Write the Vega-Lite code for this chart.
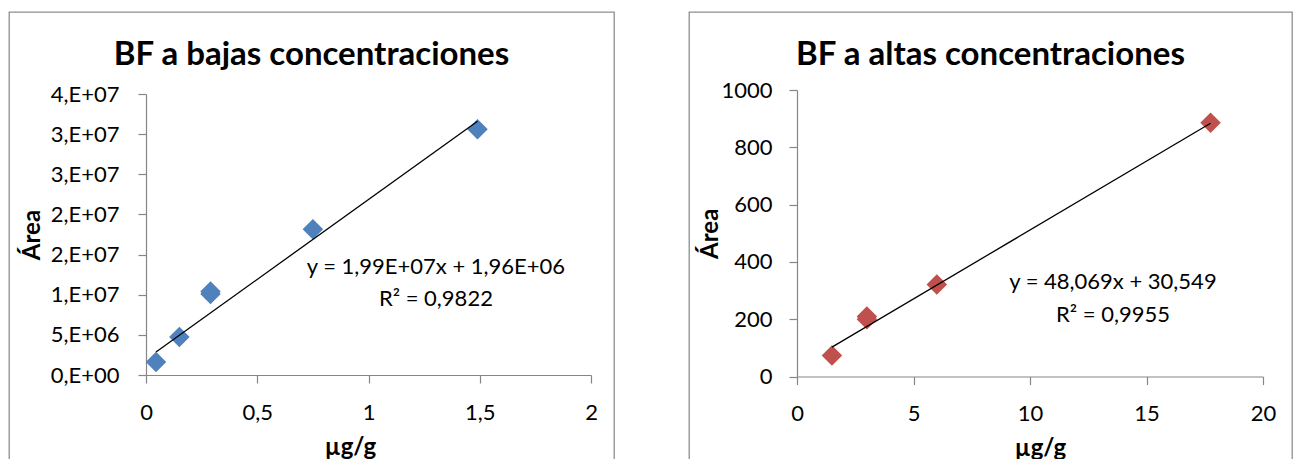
{
  "$schema": "https://vega.github.io/schema/vega-lite/v6.json",
  "background": "white",
  "padding": {"left": 8, "top": 11, "right": 11, "bottom": 0},
  "spacing": 73,
  "config": {
    "font": "Lato",
    "view": {"stroke": "#8f8f8f", "strokeWidth": 1.3},
    "axis": {
      "grid": false,
      "domainColor": "#868686",
      "domainWidth": 1.2,
      "tickColor": "#868686",
      "tickWidth": 1.2,
      "tickSize": 8,
      "labelFont": "Lato",
      "labelFontSize": 22,
      "labelColor": "#000000",
      "labelFlush": false,
      "labelOverlap": false,
      "titleFont": "Lato",
      "titleFontSize": 24,
      "titleFontWeight": "bold",
      "titleColor": "#000000"
    },
    "title": {
      "font": "Lato",
      "fontSize": 33,
      "fontWeight": "bold",
      "color": "#000000",
      "anchor": "middle",
      "frame": "group",
      "baseline": "alphabetic"
    }
  },
  "datasets": {
    "bajas": [
      {"conc": 0.045, "area": 1620000},
      {"conc": 0.15, "area": 4730000},
      {"conc": 0.29, "area": 10100000},
      {"conc": 0.29, "area": 10400000},
      {"conc": 0.75, "area": 18150000},
      {"conc": 1.49, "area": 30600000}
    ],
    "ajusteBajas": [
      {"conc": 0.045, "area": 2855500},
      {"conc": 1.49, "area": 31611000}
    ],
    "altas": [
      {"conc": 1.5, "area": 73},
      {"conc": 3, "area": 200},
      {"conc": 3, "area": 209},
      {"conc": 6, "area": 321},
      {"conc": 17.75, "area": 886}
    ],
    "ajusteAltas": [
      {"conc": 1.5, "area": 102.65},
      {"conc": 17.75, "area": 883.77}
    ]
  },
  "hconcat": [
    {
      "width": 605,
      "height": 447,
      "view": {"strokeDash": [1052, 605, 447, 0]},
      "title": {"text": "BF a bajas concentraciones", "offset": -60},
      "layer": [
        {
          "data": {"name": "bajas"},
          "mark": {"type": "point", "shape": "diamond", "filled": true, "size": 420, "color": "#4F81BD", "opacity": 1},
          "encoding": {
            "x": {
              "field": "conc", "type": "quantitative",
              "scale": {"domain": [0, 2], "range": [137, 582], "nice": false, "zero": false},
              "axis": {
                "values": [0, 0.5, 1, 1.5, 2],
                "format": "~g",
                "labelExpr": "replace(datum.label, '.', ',')",
                "offset": -84,
                "labelPadding": 19,
                "title": "µg/g",
                "titleX": 341,
                "titlePadding": 12
              }
            },
            "y": {
              "field": "area", "type": "quantitative",
              "scale": {"domain": [0, 35000000], "range": [363, 82], "nice": false, "zero": false},
              "axis": {
                "values": [0, 5000000, 10000000, 15000000, 20000000, 25000000, 30000000, 35000000],
                "labelExpr": "replace(format(datum.value, '.0e'), 'e+', ',E+0')",
                "offset": -137,
                "labelPadding": 19,
                "title": "Área",
                "titlePadding": 6
              }
            }
          }
        },
        {
          "data": {"name": "ajusteBajas"},
          "mark": {"type": "line", "color": "#000000", "strokeWidth": 1.3},
          "encoding": {
            "x": {"field": "conc", "type": "quantitative"},
            "y": {"field": "area", "type": "quantitative"}
          }
        },
        {
          "data": {"values": [{}]},
          "mark": {"type": "text", "fontSize": 22, "align": "center", "baseline": "alphabetic", "lineHeight": 32, "color": "#000000"},
          "encoding": {
            "x": {"datum": 1.303, "type": "quantitative"},
            "y": {"datum": 12590000, "type": "quantitative"},
            "text": {"value": ["y = 1,99E+07x + 1,96E+06", "R² = 0,9822"]}
          }
        }
      ]
    },
    {
      "width": 603,
      "height": 447,
      "view": {"strokeDash": [1050, 603, 447, 0]},
      "title": {"text": "BF a altas concentraciones", "offset": -60},
      "layer": [
        {
          "data": {"name": "altas"},
          "mark": {"type": "point", "shape": "diamond", "filled": true, "size": 420, "color": "#C0504D", "opacity": 1},
          "encoding": {
            "x": {
              "field": "conc", "type": "quantitative",
              "scale": {"domain": [0, 20], "range": [108, 574], "nice": false, "zero": false},
              "axis": {
                "values": [0, 5, 10, 15, 20],
                "format": "d",
                "offset": -82.5,
                "labelPadding": 19,
                "title": "µg/g",
                "titleX": 351,
                "titlePadding": 12
              }
            },
            "y": {
              "field": "area", "type": "quantitative",
              "scale": {"domain": [0, 1000], "range": [364.5, 78], "nice": false, "zero": false},
              "axis": {
                "values": [0, 200, 400, 600, 800, 1000],
                "format": "d",
                "offset": -108,
                "labelPadding": 17,
                "title": "Área",
                "titlePadding": -2
              }
            }
          }
        },
        {
          "data": {"name": "ajusteAltas"},
          "mark": {"type": "line", "color": "#000000", "strokeWidth": 1.3},
          "encoding": {
            "x": {"field": "conc", "type": "quantitative"},
            "y": {"field": "area", "type": "quantitative"}
          }
        },
        {
          "data": {"values": [{}]},
          "mark": {"type": "text", "fontSize": 22, "align": "center", "baseline": "alphabetic", "lineHeight": 33, "color": "#000000"},
          "encoding": {
            "x": {"datum": 13.56, "type": "quantitative"},
            "y": {"datum": 305, "type": "quantitative"},
            "text": {"value": ["y = 48,069x + 30,549", "R² = 0,9955"]}
          }
        }
      ]
    }
  ]
}
